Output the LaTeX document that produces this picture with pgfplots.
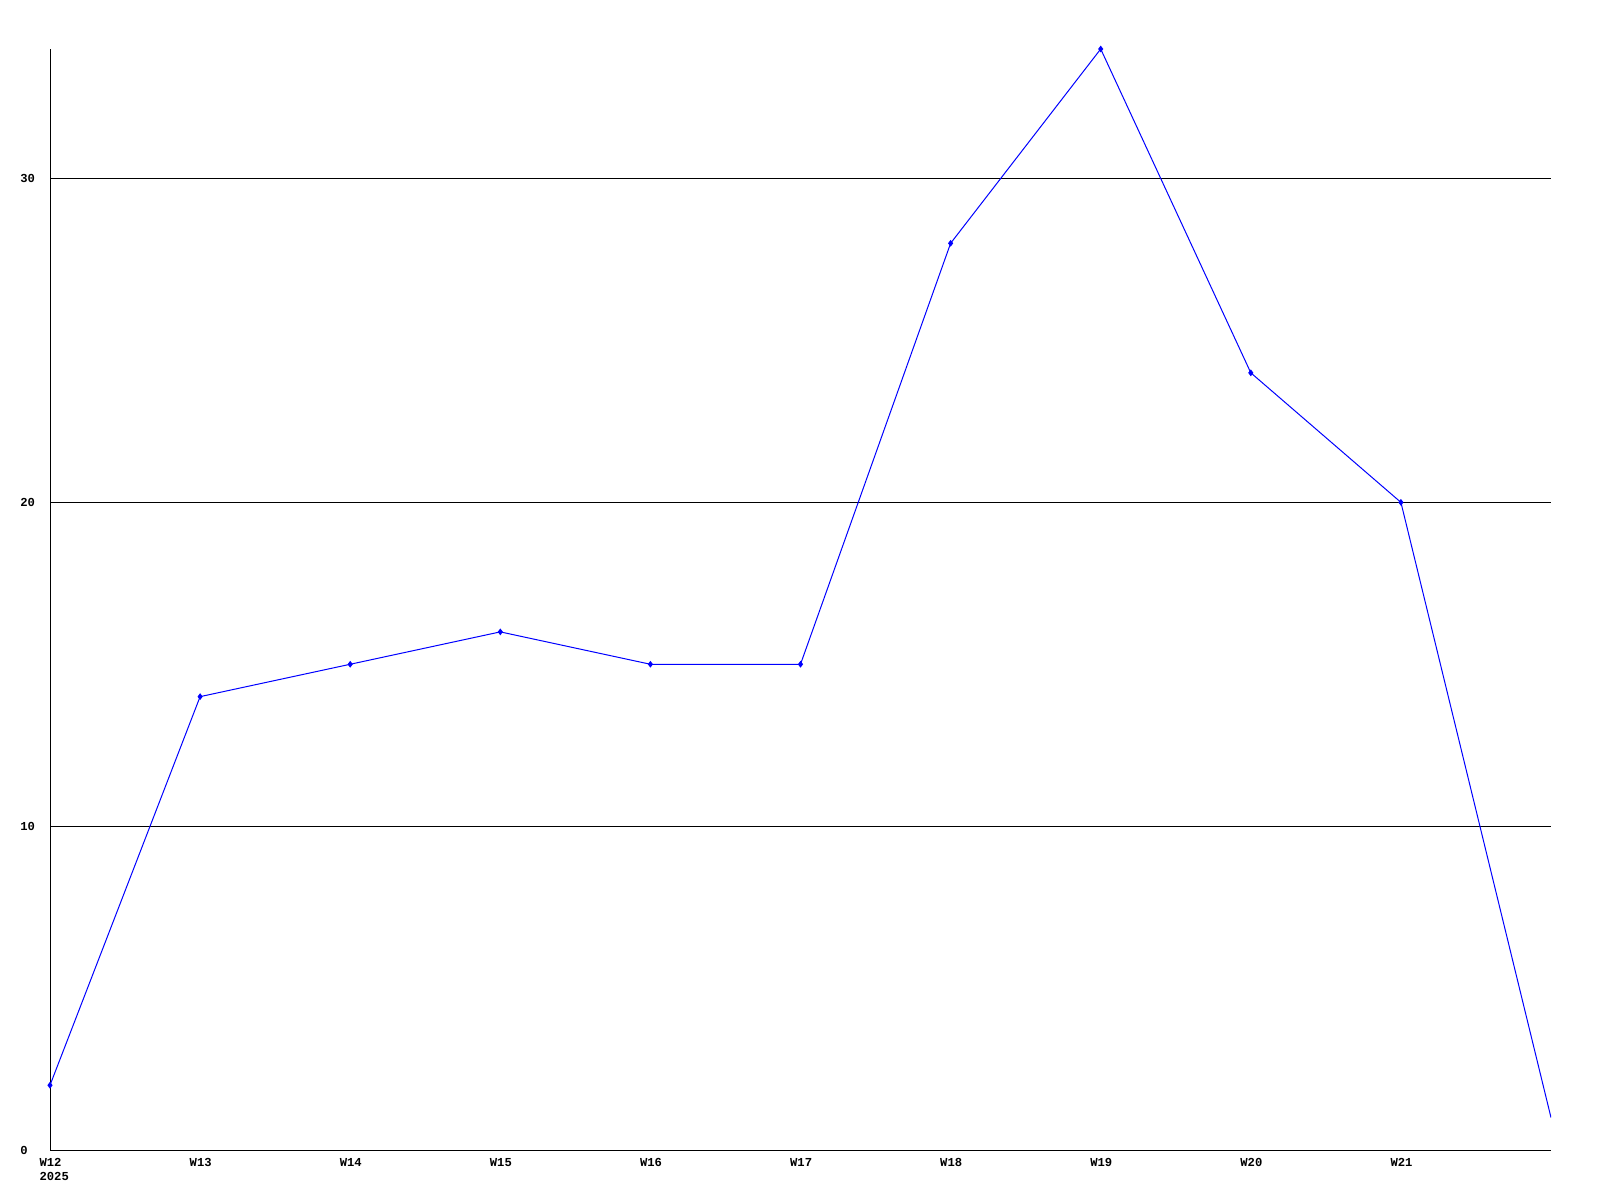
\documentclass[border=0pt]{standalone}
\usepackage{fontspec}
\setmainfont{Liberation Mono}
\usepackage{pgfplots}
\pgfplotsset{compat=1.18}
\begin{document}
\begin{tikzpicture}
\path[use as bounding box, fill=white] (0,0) rectangle (800pt,600pt);
\begin{axis}[
  at={(25pt,25pt)}, anchor=south west,
  scale only axis, width=750.5pt, height=550.5pt,
  xmin=0, xmax=10, ymin=0, ymax=34,
  axis lines*=left,
  axis line style={black, line width=0.5pt},
  xtick={0,...,9},
  xticklabels={{W12\\2025},W13,W14,W15,W16,W17,W18,W19,W20,W21},
  ytick={0,10,20,30},
  major tick length=0pt,
  ymajorgrids,
  grid style={black, line width=0.5pt},
  /pgf/number format/assume math mode=true,
  ticklabel style={font=\fontsize{6.1}{6.8}\selectfont\bfseries},
  xticklabel style={anchor=north west, align=left, inner sep=0pt, xshift=-5.4pt, yshift=-4.2pt},
  yticklabel style={anchor=west, inner sep=0pt, xshift=-15pt},
]
\addplot[blue, line width=0.5pt, mark=diamond*, mark size=1.3pt, mark indices={1,...,10}] coordinates {
(0,2) (1,14) (2,15) (3,16) (4,15) (5,15) (6,28) (7,34) (8,24) (9,20) (10,1)
};
\end{axis}
\end{tikzpicture}
\end{document}
